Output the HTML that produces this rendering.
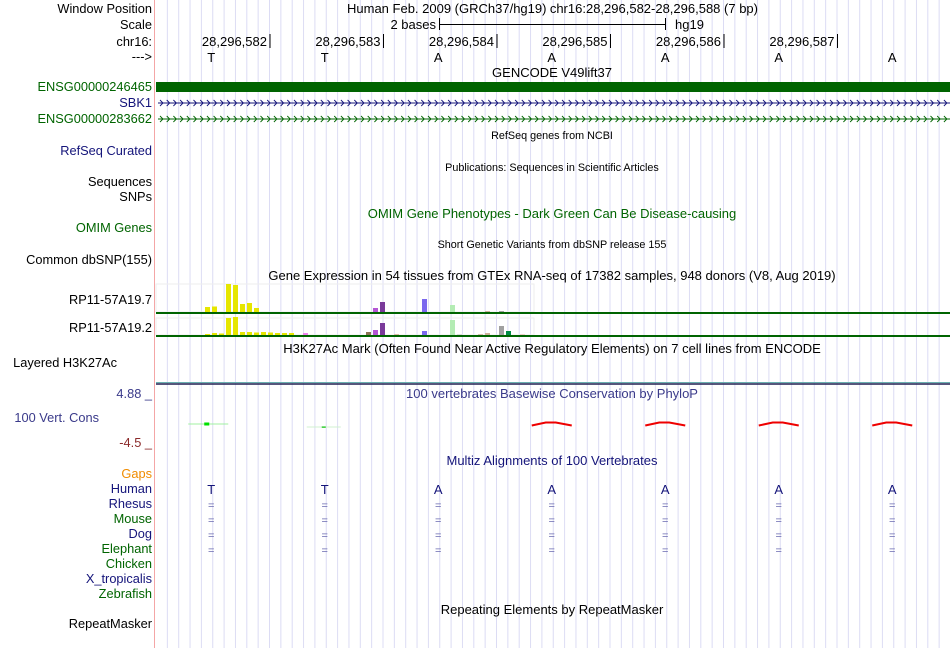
<!DOCTYPE html>
<html><head><meta charset="utf-8">
<style>
html,body{margin:0;padding:0;background:#fff;}
svg{display:block;font-family:"Liberation Sans",sans-serif;}
</style></head>
<body>
<svg id="ch" width="950" height="648" xmlns="http://www.w3.org/2000/svg">
<g id="grid"></g>
<line x1="154.5" y1="0" x2="154.5" y2="648" stroke="#f4a6a6"/>
<g id="labels" font-size="12.8" text-anchor="end">
<text x="152" y="13" fill="#000">Window Position</text>
<text x="152" y="29" fill="#000">Scale</text>
<text x="152" y="46" fill="#000">chr16:</text>
<text x="152" y="61" fill="#000">---&gt;</text>
<text x="152" y="91" fill="#006400">ENSG00000246465</text>
<text x="152" y="107" fill="#14147a">SBK1</text>
<text x="152" y="123" fill="#006400">ENSG00000283662</text>
<text x="152" y="155" fill="#14147a">RefSeq Curated</text>
<text x="152" y="186" fill="#000">Sequences</text>
<text x="152" y="201" fill="#000">SNPs</text>
<text x="152" y="232" fill="#006400">OMIM Genes</text>
<text x="152" y="264" fill="#000">Common dbSNP(155)</text>
<text x="152" y="304" fill="#000">RP11-57A19.7</text>
<text x="152" y="332" fill="#000">RP11-57A19.2</text>
<text x="117" y="367" fill="#000">Layered H3K27Ac</text>
<text x="152" y="398" fill="#3a3a8a">4.88 _</text>
<text x="99" y="422" fill="#3a3a8a">100 Vert. Cons</text>
<text x="152" y="447" fill="#8b2a2a">-4.5 _</text>
<text x="152" y="478" fill="#f08c00">Gaps</text>
<text x="152" y="493" fill="#14147a">Human</text>
<text x="152" y="508" fill="#14147a">Rhesus</text>
<text x="152" y="523" fill="#006400">Mouse</text>
<text x="152" y="538" fill="#14147a">Dog</text>
<text x="152" y="553" fill="#006400">Elephant</text>
<text x="152" y="568" fill="#006400">Chicken</text>
<text x="152" y="583" fill="#14147a">X_tropicalis</text>
<text x="152" y="598" fill="#006400">Zebrafish</text>
<text x="152" y="628" fill="#000">RepeatMasker</text>
</g>
<g font-size="13" text-anchor="middle">
<text x="347" y="13" text-anchor="start">Human Feb. 2009 (GRCh37/hg19)</text>
<text x="758" y="13" text-anchor="end">chr16:28,296,582-28,296,588 (7 bp)</text>
<text x="552" y="77">GENCODE V49lift37</text>
<text x="552" y="139" font-size="10.8">RefSeq genes from NCBI</text>
<text x="552" y="171" font-size="10.8">Publications: Sequences in Scientific Articles</text>
<text x="552" y="218" fill="#006400">OMIM Gene Phenotypes - Dark Green Can Be Disease-causing</text>
<text x="552" y="248" font-size="10.8">Short Genetic Variants from dbSNP release 155</text>
<text x="552" y="280">Gene Expression in 54 tissues from GTEx RNA-seq of 17382 samples, 948 donors (V8, Aug 2019)</text>
<text x="552" y="353">H3K27Ac Mark (Often Found Near Active Regulatory Elements) on 7 cell lines from ENCODE</text>
<text x="552" y="398" fill="#3a3a8a">100 vertebrates Basewise Conservation by PhyloP</text>
<text x="552" y="465" fill="#14147a">Multiz Alignments of 100 Vertebrates</text>
<text x="552" y="614">Repeating Elements by RepeatMasker</text>
</g>
<g font-size="13">
<text x="436" y="29" text-anchor="end">2 bases</text>
<line x1="439.5" y1="18" x2="439.5" y2="30" stroke="#000"/>
<line x1="439.5" y1="24.5" x2="665.5" y2="24.5" stroke="#000"/>
<line x1="665.5" y1="18" x2="665.5" y2="30" stroke="#000"/>
<text x="675" y="29">hg19</text>
</g>
<g id="ruler" font-size="13"></g>
<rect x="156" y="82" width="794" height="10" fill="#006400"/>
<g id="arrows"></g>
<g id="gtex"></g>
<line x1="156" y1="382.5" x2="950" y2="382.5" stroke="#6ab0b0"/>
<line x1="156" y1="384" x2="950" y2="384" stroke="#1e1e50" stroke-width="1.5"/>
<g id="cons"></g>
<g id="multiz" font-size="13" text-anchor="middle"></g>
</svg>
<script>
const bases = ["T","T","A","A","A","A","A"];
const positions = ["28,296,582","28,296,583","28,296,584","28,296,585","28,296,586","28,296,587"];
const tissueIdx1 = [7,8,10,11,12,13,14,31,32,38,42,47,49];
const gtex1 = [5,5.5,28,27,8,9,4,4,10,13,7,1,1];
const tissueIdx2 = [7,8,9,10,11,12,13,14,15,16,17,18,19,21,30,31,32,34,38,42,43,46,47,49,50,52];
const gtex2 = [1,2,1.5,17,18,3,3,2.5,3,2.5,2,2,2,2,3,5,12,1,4,15,1,1,2,9,4,1];
const consBaseIdx = [0,1,3,4,5,6];
const consValues = [0.4,-0.2,0.6,0.6,0.6,0.6];
const alignedSpecies = 4;

const NS='http://www.w3.org/2000/svg';
function mk(tag,attrs,parent,txt){const e=document.createElementNS(NS,tag);for(const k in attrs)e.setAttribute(k,attrs[k]);if(txt!==undefined)e.textContent=txt;parent.appendChild(e);return e;}
const bw=113.5, x0=156;
function bx(i){return x0+bw*(i+0.5)-1.5;}
const grid=document.getElementById('grid');
for(let k=1;k<70;k++){const x=x0+k*11.35;
const l=mk('line',{x1:x,y1:0,x2:x,y2:648,stroke:'#dcdcf4'},grid);

}
const ruler=document.getElementById('ruler');
positions.forEach((p,i)=>{const tx=x0+bw*(i+1)-0.5;
const t=mk('text',{x:tx-2,y:46,'text-anchor':'end'},ruler,p);


const l=mk('line',{x1:tx+1,y1:34,x2:tx+1,y2:48,stroke:'#000'},ruler);

});
bases.forEach((b,i)=>{const t=mk('text',{x:bx(i),y:62,'text-anchor':'middle'},ruler,b);

});
const ar=document.getElementById('arrows');
[[103,'#14147a'],[119,'#006400']].forEach(([y,c])=>{
const l=mk('line',{x1:158,y1:y,x2:950,y2:y,stroke:c},ar);


let d='';for(let x=160;x<950;x+=6.7){d+=`M${x.toFixed(1)},${y-3}L${(x+3).toFixed(1)},${y}L${x.toFixed(1)},${y+3}`;}
const p=mk('path',{d:d,stroke:c,fill:'none','stroke-width':0.9},ar);

});
const colors={7:'#e6e600',8:'#e6e600',9:'#e6e600',10:'#e6e600',11:'#e6e600',12:'#e6e600',13:'#e6e600',14:'#e6e600',15:'#e6e600',16:'#e6e600',17:'#e6e600',18:'#e6e600',19:'#e6e600',21:'#ee82ee',30:'#8b7355',31:'#b455d4',32:'#7a3a9a',34:'#ddbba8',38:'#7b68ee',42:'#b4ecb4',43:'#ddd',46:'#d8bfb0',47:'#cdb09a',49:'#a0a0a0',50:'#008b45',52:'#f0d0c8'};
const g=document.getElementById('gtex');
function gtexRow(idx,vals,top,base,name){
const r=mk('rect',{x:156,y:top,width:378,height:base-top,fill:'none',stroke:'#eee'},g);


idx.forEach((ti,j)=>{const h=vals[j];
const b=mk('rect',{x:156+ti*7,y:base-h,width:5,height:h,fill:colors[ti]||'#ccc'},g);

});
const l=mk('line',{x1:156,y1:base+1,x2:950,y2:base+1,stroke:'#006400','stroke-width':2},g);

}
gtexRow(tissueIdx1,gtex1,284,312,'gtex-row1');
gtexRow(tissueIdx2,gtex2,318,335,'gtex-row2');
const c=document.getElementById('cons');
const cy=v=>426-v*5;
consValues.forEach((v,j)=>{const cx=bx(consBaseIdx[j]);
if(v>0 && j===0){
const l=mk('line',{x1:cx-23,y1:cy(v),x2:cx+17,y2:cy(v),stroke:'#a0f0a0'},c);


const s=mk('rect',{x:cx-7,y:cy(v)-1.5,width:5,height:3,fill:'#00e000'},c);


} else if(v<0){
const l=mk('line',{x1:cx-18,y1:cy(v),x2:cx+16,y2:cy(v),stroke:'#d0f0d0'},c);


const s=mk('rect',{x:cx-3,y:cy(v)-0.5,width:4,height:1.2,fill:'#00c000'},c);


} else {
const y=cy(v);
const p=mk('path',{d:`M${cx-20},${y+2.5}L${cx-6},${y-0.5}L${cx+4},${y-0.5}L${cx+20},${y+2.5}`,stroke:'#ee0000',fill:'none','stroke-width':2},c);

}});
const m=document.getElementById('multiz');
bases.forEach((b,i)=>{const t=mk('text',{x:bx(i),y:494,fill:'#14147a'},m,b);


for(let s=0;s<alignedSpecies;s++){const e=mk('text',{x:bx(i),y:509+s*15,fill:'#6a6ab0','font-size':11},m,'=');

}});
</script>
</body></html>
